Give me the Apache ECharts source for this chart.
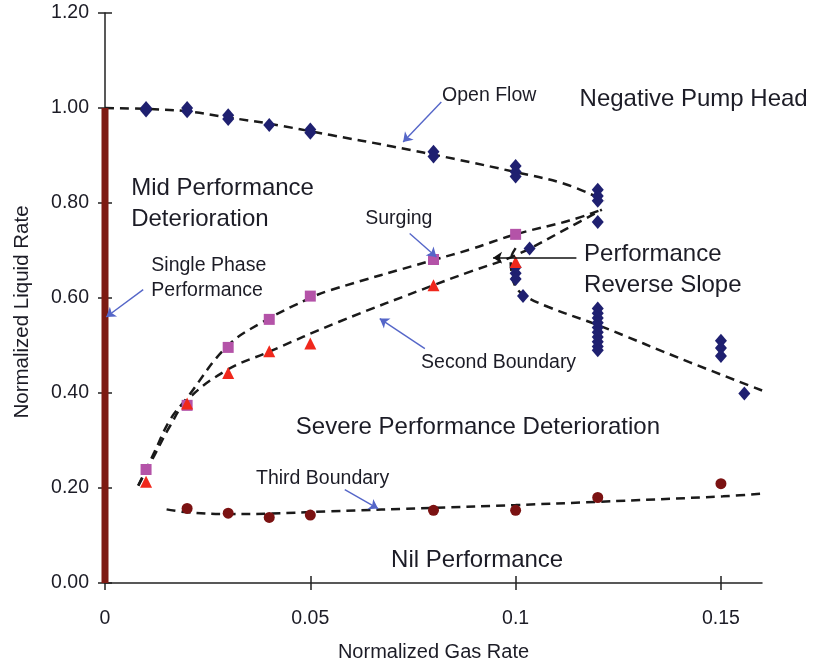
<!DOCTYPE html>
<html>
<head>
<meta charset="utf-8">
<script src="https://cdn.jsdelivr.net/npm/echarts@6/dist/echarts.min.js"></script>
<style>
  html, body { margin:0; padding:0; background:#fff; }
  #chart { width:814px; height:665px; }
</style>
</head>
<body>
<div id="chart"></div>
<script>
// tick labels
var xTicks = [0, 0.05, 0.1, 0.15];
var yTicks = [0, 0.2, 0.4, 0.6, 0.8, 1.0, 1.2];

// measured points
var openFlowPts = [[0.01,0.995],[0.01,1.0],[0.02,0.993],[0.02,1.0],[0.03,0.985],[0.03,0.977],[0.04,0.964],
    [0.05,0.955],[0.05,0.948],[0.08,0.908],[0.08,0.898],[0.1,0.878],[0.1,0.866],[0.1,0.856],
    [0.12,0.828],[0.12,0.815],[0.12,0.805],[0.12,0.76],
    [0.1034,0.704],[0.1,0.665],[0.1,0.652],[0.1,0.64],[0.1018,0.604],
    [0.12,0.578],[0.12,0.568],[0.12,0.558],[0.12,0.548],[0.12,0.538],[0.12,0.528],[0.12,0.518],[0.12,0.508],[0.12,0.498],[0.12,0.49],
    [0.15,0.51],[0.15,0.495],[0.15,0.478],[0.1557,0.399]];
var surgingPts = [[0.01,0.239],[0.02,0.374],[0.03,0.496],[0.04,0.555],[0.05,0.604],[0.08,0.681],[0.1,0.734]];
var secondPts = [[0.01,0.213],[0.02,0.378],[0.03,0.442],[0.04,0.488],[0.05,0.504],[0.08,0.627],[0.1,0.676]];
var thirdPts = [[0.02,0.157],[0.03,0.147],[0.04,0.138],[0.05,0.143],[0.08,0.153],[0.1,0.153],[0.12,0.18],[0.15,0.209]];

// boundary curves (dashed)
var openFlowCurve = [[0,1.0],[0.01,0.998],[0.02,0.993],[0.03,0.98],[0.04,0.967],[0.055,0.943],[0.07,0.919],
    [0.085,0.893],[0.1,0.865],[0.112,0.84],[0.1217,0.805]];
var surgingCurve = [[0.0081,0.205],[0.012,0.275],[0.0158,0.343],[0.02,0.39],[0.0296,0.497],[0.0385,0.55],
    [0.05,0.6],[0.0547,0.616],[0.08,0.68],[0.0888,0.702],[0.1,0.734],[0.1131,0.763],[0.121,0.786]];
var secondCurve = [[0.0081,0.205],[0.012,0.268],[0.0158,0.33],[0.02,0.385],[0.0296,0.448],[0.0397,0.486],
    [0.057,0.55],[0.08,0.627],[0.0888,0.655],[0.1,0.69],[0.1131,0.749],[0.121,0.786]];
var reverseCurve = [[0.1,0.705],[0.0988,0.68],[0.099,0.655],[0.0998,0.627],[0.102,0.606],[0.108,0.581],
    [0.12,0.543],[0.1423,0.465],[0.161,0.402]];
var thirdCurve = [[0.015,0.155],[0.02,0.149],[0.03,0.145],[0.04,0.146],[0.0547,0.151],[0.08,0.158],
    [0.1,0.164],[0.12,0.171],[0.1505,0.1825],[0.163,0.19]];
var singlePhaseLine = [[0,0],[0,1.0]];

// annotations: [x, y, text]
var smallNotes = [[0.0822,1.0246,'Open Flow'],[0.0114,0.6404,'Single Phase\nPerformance'],
    [0.0635,0.7657,'Surging'],[0.0771,0.4625,'Second Boundary'],[0.0369,0.2183,'Third Boundary']];
var bigNotes = [[0.1157,1.0162,'Negative Pump Head'],[0.0065,0.798,'Mid Performance\nDeterioration'],
    [0.1168,0.6583,'Performance\nReverse Slope'],[0.0466,0.3257,'Severe Performance Deterioration'],
    [0.0698,0.0457,'Nil Performance']];
var blueArrows = [[[0.0819,1.0126],[0.0726,0.9284]],[[0.0093,0.6177],[0.0003,0.56]],
    [[0.0742,0.7356],[0.0807,0.6863]],[[0.0779,0.4935],[0.0669,0.5566]],[[0.0584,0.1966],[0.0665,0.1566]]];
var blackArrows = [[[0.1148,0.685],[0.0945,0.685]]];

var FONT = 'Liberation Sans, Arial, sans-serif';
var TEXT = '#1c1c26';
var dash = {color:'#1a1a1a', width:2.5, type:[9,6]};

function curve(data){
    return {type:'line', data:data, smooth:0.4, symbol:'none', clip:false, silent:true, z:3,
        lineStyle:dash};
}
function notes(data, size, lh){
    return {type:'scatter', data:data, symbolSize:1, silent:true, z:10,
        itemStyle:{color:'rgba(0,0,0,0)', opacity:1},
        label:{show:true, position:[0,0], align:'left', verticalAlign:'middle', opacity:1,
            formatter:function(p){return p.data[2];},
            color:TEXT, fontSize:size, lineHeight:lh, fontFamily:FONT}};
}
function arrows(data, color, w){
    return {type:'lines', coordinateSystem:'cartesian2d', silent:true, z:9,
        symbol:['none','arrow'], symbolSize:9,
        lineStyle:{color:color, width:w, opacity:1},
        data:data.map(function(c){return {coords:c};})};
}
function dots(data, symbol, size, color, z){
    return {type:'scatter', data:data, symbol:symbol, symbolSize:size, z:z, silent:true,
        itemStyle:{color:color, opacity:1}};
}

var chart = echarts.init(document.getElementById('chart'));
var option = {
    backgroundColor:'#fff',
    animation:false,
    grid:{left:105, right:52, top:13, bottom:82, outerBoundsMode:'none', containLabel:false},
    xAxis:[{
        type:'value', min:0, max:0.16, position:'bottom',
        name:'Normalized Gas Rate', nameLocation:'middle', nameGap:59,
        nameTextStyle:{color:TEXT, fontSize:20, fontFamily:FONT},
        axisLine:{show:true, onZero:false, lineStyle:{color:'#222', width:1.5}},
        axisTick:{show:true, length:7, customValues:xTicks, lineStyle:{color:'#222', width:1.5}},
        axisLabel:{customValues:xTicks, margin:26, color:TEXT, fontSize:19.5, fontFamily:FONT,
            formatter:function(v){return v===0?'0':String(+v.toFixed(2));}},
        splitLine:{show:false}
    },{
        type:'value', min:0, max:0.16, position:'bottom',
        axisLine:{show:false}, axisLabel:{show:false}, splitLine:{show:false},
        axisTick:{show:true, inside:true, length:7, customValues:xTicks, lineStyle:{color:'#222', width:1.5}}
    }],
    yAxis:[{
        type:'value', min:0, max:1.2, interval:0.2,
        name:'Normalized Liquid Rate', nameLocation:'middle', nameGap:72,
        nameTextStyle:{color:TEXT, fontSize:20.5, fontFamily:FONT, padding:[0,28,0,0]},
        axisLine:{show:true, onZero:false, lineStyle:{color:'#222', width:1.5}},
        axisTick:{show:true, length:7, customValues:yTicks, lineStyle:{color:'#222', width:1.5}},
        axisLabel:{customValues:yTicks, margin:16, color:TEXT, fontSize:19.5, fontFamily:FONT,
            formatter:function(v){return v.toFixed(2);}},
        splitLine:{show:false}
    },{
        type:'value', min:0, max:1.2, interval:0.2, position:'left',
        axisLine:{show:false}, axisLabel:{show:false}, splitLine:{show:false},
        axisTick:{show:true, inside:true, length:7, customValues:yTicks, lineStyle:{color:'#222', width:1.5}}
    }],
    series:[
        {type:'line', data:singlePhaseLine, symbol:'none', silent:true, z:4,
            lineStyle:{color:'#7d1a13', width:7}},
        curve(openFlowCurve), curve(surgingCurve), curve(secondCurve), curve(reverseCurve), curve(thirdCurve),
        dots(openFlowPts, 'diamond', [12,14], '#1f2070', 5),
        dots(surgingPts, 'rect', 11, '#b453a8', 5),
        dots(secondPts, 'triangle', 12, '#f0281c', 6),
        dots(thirdPts, 'circle', 11, '#7b1212', 5),
        arrows(blueArrows, '#5566c8', 1.4),
        arrows(blackArrows, '#111', 1.6),
        notes(smallNotes, 19.5, 24.5),
        notes(bigNotes, 24, 31)
    ]
};
chart.setOption(option);
</script>
</body>
</html>
